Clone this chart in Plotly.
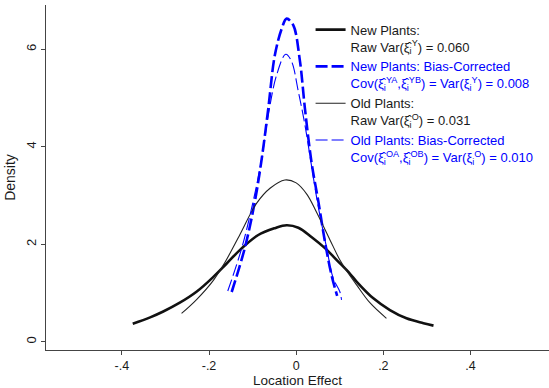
import plotly.graph_objects as go

# ---- data ----
new_raw_x = [-0.375, -0.335, -0.305, -0.267, -0.228, -0.190, -0.160, -0.127, -0.087, -0.049,
             -0.022, 0.005, 0.035, 0.066, 0.097, 0.123, 0.139, 0.177, 0.215, 0.253, 0.292, 0.315]
new_raw_y = [0.37, 0.50, 0.62, 0.80, 1.03, 1.33, 1.60, 1.90, 2.19, 2.33,
             2.39, 2.34, 2.15, 1.92, 1.64, 1.40, 1.23, 0.89, 0.65, 0.48, 0.38, 0.33]

new_bc_x = [-0.148, -0.118, -0.095, -0.079, -0.064, -0.049, -0.033, -0.022, -0.007, 0.008,
            0.020, 0.035, 0.051, 0.066, 0.081, 0.094]
new_bc_y = [1.02, 1.92, 2.87, 3.76, 4.79, 5.88, 6.43, 6.63, 6.50, 5.80,
            4.79, 3.69, 2.87, 2.05, 1.37, 0.94]

old_raw_x = [-0.263, -0.228, -0.190, -0.164, -0.129, -0.091, -0.060, -0.026, 0.000, 0.025,
             0.047, 0.077, 0.100, 0.116, 0.139, 0.169, 0.207]
old_raw_y = [0.58, 0.87, 1.26, 1.62, 2.20, 2.84, 3.15, 3.32, 3.26, 3.02,
             2.65, 2.10, 1.68, 1.45, 1.16, 0.80, 0.48]

old_bc_x = [-0.157, -0.125, -0.099, -0.079, -0.064, -0.045, -0.024, -0.011, 0.005, 0.020,
            0.035, 0.050, 0.070, 0.085, 0.100, 0.104]
old_bc_y = [1.04, 1.92, 2.87, 3.76, 4.65, 5.47, 5.90, 5.76, 5.13, 4.45,
            3.62, 2.80, 1.92, 1.30, 1.03, 0.86]

x_tick_vals = [-0.4, -0.2, 0, 0.2, 0.4]
x_tick_text = ["-.4", "-.2", "0", ".2", ".4"]
y_tick_vals = [0, 2, 4, 6]
y_tick_text = ["0", "2", "4", "6"]

BLUE = "#0000ff"


def blue(s):
    return "<span style='color:%s'>%s</span>" % (BLUE, s)


name_new_raw = "New Plants:<br>Raw Var(ξ̂<sub>i</sub><sup>Y</sup>) = 0.060"
name_new_bc = (blue("New Plants: Bias-Corrected") + "<br>" +
               blue("Cov(ξ̂<sub>i</sub><sup>YA</sup>,ξ̂<sub>i</sub><sup>YB</sup>) = Var(ξ<sub>i</sub><sup>Y</sup>) = 0.008"))
name_old_raw = "Old Plants:<br>Raw Var(ξ̂<sub>i</sub><sup>O</sup>) = 0.031"
name_old_bc = (blue("Old Plants: Bias-Corrected") + "<br>" +
               blue("Cov(ξ̂<sub>i</sub><sup>OA</sup>,ξ̂<sub>i</sub><sup>OB</sup>) = Var(ξ<sub>i</sub><sup>O</sup>) = 0.010"))

fig = go.Figure()
fig.add_trace(go.Scatter(x=new_raw_x, y=new_raw_y, mode="lines", name=name_new_raw,
                         line=dict(color="#111111", width=2.6, shape="spline")))
fig.add_trace(go.Scatter(x=new_bc_x, y=new_bc_y, mode="lines", name=name_new_bc,
                         line=dict(color=BLUE, width=2.6, dash="12px,4px", shape="spline")))
fig.add_trace(go.Scatter(x=old_raw_x, y=old_raw_y, mode="lines", name=name_old_raw,
                         line=dict(color="#222222", width=1.1, shape="spline")))
fig.add_trace(go.Scatter(x=old_bc_x, y=old_bc_y, mode="lines", name=name_old_bc,
                         line=dict(color=BLUE, width=1.1, dash="12px,4px", shape="spline")))

fig.update_layout(
    width=549, height=388,
    margin=dict(l=46, r=0, t=5, b=38),
    paper_bgcolor="white", plot_bgcolor="white",
    font=dict(family="Liberation Sans, Arial, sans-serif", size=13, color="#1a1a1a"),
    showlegend=True,
    legend=dict(x=0.526, y=0.972, xanchor="left", yanchor="top", bgcolor="rgba(0,0,0,0)",
                valign="top", itemwidth=30, font=dict(size=13)),
    xaxis=dict(range=[-0.574, 0.580], tickvals=x_tick_vals, ticktext=x_tick_text,
               showline=True, linecolor="#444", linewidth=1, ticks="outside", ticklen=4,
               tickcolor="#444", showgrid=False, zeroline=False, tickfont=dict(size=12.5),
               title=dict(text="Location Effect", standoff=3, font=dict(size=13.5))),
    yaxis=dict(range=[-0.17, 6.91], tickvals=y_tick_vals, ticktext=y_tick_text, tickangle=-90,
               showline=True, linecolor="#444", linewidth=1, ticks="outside", ticklen=4,
               tickcolor="#444", showgrid=False, zeroline=False, tickfont=dict(size=13),
               title=dict(text="Density", standoff=4, font=dict(size=14))),
)

fig.write_html("out.html")
